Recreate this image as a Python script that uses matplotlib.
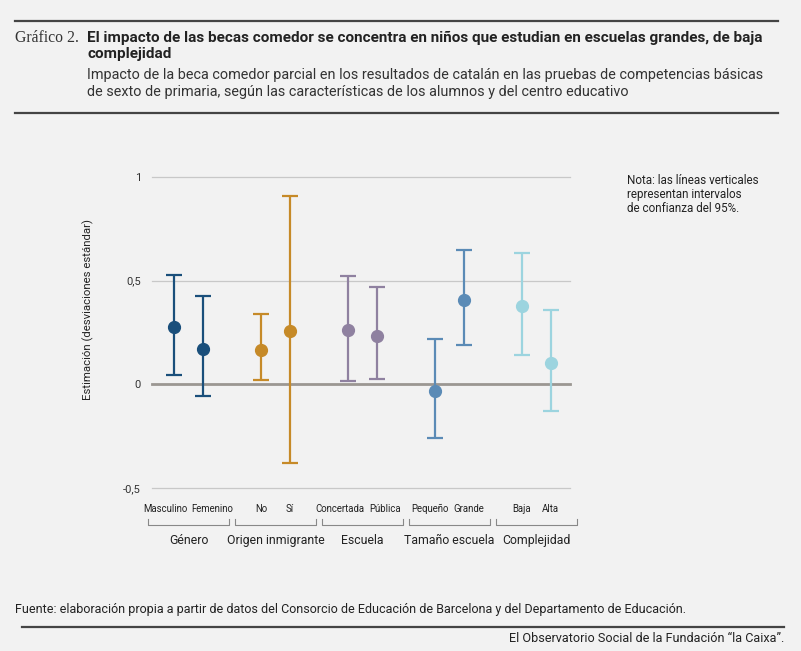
import matplotlib.pyplot as plt

# Data
groups = ['Género', 'Origen inmigrante', 'Escuela', 'Tamaño escuela', 'Complejidad']
categories = ['Masculino', 'Femenino', 'No', 'Sí', 'Concertada', 'Pública',
              'Pequeño', 'Grande', 'Baja', 'Alta']
estimate = [0.275, 0.172, 0.168, 0.259, 0.264, 0.232, -0.034, 0.407, 0.378, 0.105]
ci_low = [0.045, -0.056, 0.021, -0.38, 0.018, 0.024, -0.258, 0.188, 0.142, -0.127]
ci_high = [0.527, 0.424, 0.34, 0.907, 0.523, 0.469, 0.221, 0.647, 0.634, 0.357]
group_colors = ['#1a4f7b', '#c68a28', '#8f81a0', '#5b8bb6', '#9cd4df']
y_ticks = [-0.5, 0, 0.5, 1]
y_tick_labels = ['-0,5', '0', '0,5', '1']

font = 'Roboto'
bg = '#f2f2f2'

fig = plt.figure(figsize=(8.01, 6.51), dpi=100, facecolor=bg)
W, H = 801, 651

def fx(px):
    return px / W

def fy(py):
    return 1 - py / H

# header
fig.add_artist(plt.Line2D([fx(15), fx(778)], [fy(21), fy(21)], color='#444444', lw=1.6))
fig.add_artist(plt.Line2D([fx(15), fx(778)], [fy(113), fy(113)], color='#444444', lw=1.6))
fig.text(fx(15), fy(38), 'Gráfico 2.', family='Liberation Serif', fontsize=11.3,
         color='#333333', va='center')
fig.text(fx(87), fy(38), 'El impacto de las becas comedor se concentra en niños que estudian en escuelas grandes, de baja',
         family=font, fontweight='bold', fontsize=10.95, color='#222222', va='center')
fig.text(fx(87), fy(54), 'complejidad', family=font, fontweight='bold', fontsize=10.95,
         color='#222222', va='center')
fig.text(fx(87), fy(75), 'Impacto de la beca comedor parcial en los resultados de catalán en las pruebas de competencias básicas',
         family=font, fontsize=10.4, color='#333333', va='center')
fig.text(fx(87), fy(92), 'de sexto de primaria, según las características de los alumnos y del centro educativo',
         family=font, fontsize=10.4, color='#333333', va='center')

# footer
fig.text(fx(15), fy(610), 'Fuente: elaboración propia a partir de datos del Consorcio de Educación de Barcelona y del Departamento de Educación.',
         family=font, fontsize=9.0, color='#222222', va='center')
fig.add_artist(plt.Line2D([fx(22), fx(784)], [fy(627), fy(627)], color='#444444', lw=1.6))
fig.text(fx(784), fy(638), 'El Observatorio Social de la Fundación “la Caixa”.',
         family=font, fontsize=9.1, color='#222222', va='center', ha='right')

# note
fig.text(fx(627), fy(174), 'Nota: las líneas verticales\nrepresentan intervalos\nde confianza del 95%.',
         family=font, fontsize=8.4, color='#222222', va='top', linespacing=1.1)

# main axes
ax = fig.add_axes([fx(152), fy(488.3), fx(570) - fx(152), (488.3 - 176.7) / H])
ax.set_facecolor(bg)
ax.set_xlim(-0.76, 13.66)
ax.set_ylim(-0.5, 1)
for s in ax.spines.values():
    s.set_visible(False)

for yv in y_ticks:
    if yv == 0:
        ax.axhline(yv, color='#9b9792', lw=2, zorder=1, clip_on=False)
    else:
        ax.axhline(yv, color='#c8c8c8', lw=0.9, zorder=1, clip_on=False)

positions = []
for i in range(len(categories)):
    g = i // 2
    x = g * 3 + i % 2
    positions.append(x)
    ax.errorbar(x, estimate[i],
                yerr=[[estimate[i] - ci_low[i]], [ci_high[i] - estimate[i]]],
                fmt='o', color=group_colors[g], ms=8.5, elinewidth=1.6,
                capsize=6, capthick=1.6, zorder=3, clip_on=False)

ax.set_yticks(y_ticks)
ax.set_yticklabels(y_tick_labels, family=font, fontsize=8, color='#333333')
ax.tick_params(axis='y', length=0, pad=8)
ax.set_xticks([])

trans = ax.get_xaxis_transform()
cat_texts = []
for i, c in enumerate(categories):
    t = ax.text(positions[i], -0.066, c, transform=trans, ha='center', va='center',
                family=font, fontsize=6.9, color='#222222', clip_on=False)
    cat_texts.append(t)

# push apart category labels of a pair when they collide
renderer = fig.canvas.get_renderer()
px_unit = ax.transData.transform((1, 0))[0] - ax.transData.transform((0, 0))[0]
for g in range(len(groups)):
    tl, tr = cat_texts[2 * g], cat_texts[2 * g + 1]
    bl = tl.get_window_extent(renderer)
    br = tr.get_window_extent(renderer)
    overlap = bl.x1 + 4 - br.x0
    if overlap > 0:
        shift = overlap / 2 / px_unit
        tl.set_x(tl.get_position()[0] - shift)
        tr.set_x(tr.get_position()[0] + shift)

for g, name in enumerate(groups):
    center = g * 3 + 0.5
    left, right = center - 1.41, center + 1.41
    ax.plot([left, left, right, right], [-0.098, -0.118, -0.118, -0.098],
            transform=trans, color='#888888', lw=0.8, clip_on=False)
    ax.text(center, -0.169, name, transform=trans, ha='center', va='center',
            family=font, fontsize=8.8, color='#222222', clip_on=False)

fig.text(fx(88), fy(310), 'Estimación (desviaciones estándar)', rotation=90,
         family=font, fontsize=8.2, color='#222222', ha='center', va='center')

fig.savefig('out.png', dpi=100, facecolor=bg)
